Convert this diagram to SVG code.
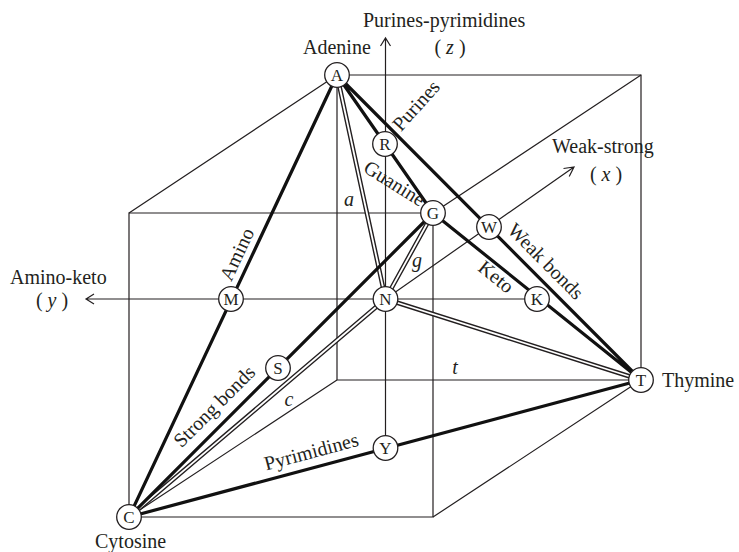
<svg xmlns="http://www.w3.org/2000/svg" width="739" height="552" viewBox="0 0 739 552">
<style>
text{font-family:"Liberation Serif","Times New Roman",serif;font-size:20px;fill:#231f20}
.it{font-style:italic}
.thin{fill:none;stroke:#231f20;stroke-width:1.2}
.thick{fill:none;stroke:#111;stroke-width:3.2;stroke-linecap:round}
.dblo{fill:none;stroke:#231f20;stroke-width:4.6}
.dbli{fill:none;stroke:#fff;stroke-width:1.8}
.node circle{fill:#fff;stroke:#231f20;stroke-width:1.3}
.node text{font-size:17px;text-anchor:middle}
.lab{text-anchor:middle}
</style>
<rect width="739" height="552" fill="#fff"/>
<g id="cube" class="thin">
<path d="M129,213H433V517H129Z"/>
<path d="M337,75H641V380H337Z"/>
<path d="M129,213L337,75M433,213L641,75M433,517L641,380M129,517L337,380"/>
</g>
<g id="connectors">
<g class="thin">
<path d="M385.5,448V38M380.5,46L385.5,38L390.5,46"/>
<path d="M536,299H86M94,294L86,299L94,304"/>
<path d="M385.5,299L574,167M563.5,168.5L574,167L569.2,176.5"/>
</g>
<g class="dblo">
<path d="M337,75L385.5,299M433,213L385.5,299M641,380L385.5,299M129,517L385.5,299"/>
</g>
<g class="dbli">
<path d="M337,75L385.5,299M433,213L385.5,299M641,380L385.5,299M129,517L385.5,299"/>
</g>
<g class="thick">
<path d="M337,75L433,213M337,75L641,380M337,75L129,517M433,213L641,380M433,213L129,517M129,517L641,380"/>
</g>
</g>
<g id="labels">
<text x="363" y="27">Purines-pyrimidines</text>
<text class="lab" x="450" y="54">( <tspan class="it">z</tspan> )</text>
<text x="303" y="54">Adenine</text>
<text x="552" y="153">Weak-strong</text>
<text class="lab" x="606" y="181">( <tspan class="it">x</tspan> )</text>
<text x="662" y="387">Thymine</text>
<text x="10" y="284">Amino-keto</text>
<text class="lab" x="52" y="307">( <tspan class="it">y</tspan> )</text>
<text x="95" y="548">Cytosine</text>
<text class="lab" transform="translate(421,110) rotate(-48)">Purines</text>
<text class="lab" transform="translate(391,189) rotate(32)">Guanine</text>
<text class="lab" transform="translate(243,257) rotate(-64.8)">Amino</text>
<text class="lab" transform="translate(219,411) rotate(-45)">Strong bonds</text>
<text class="lab" transform="translate(313,458) rotate(-15)">Pyrimidines</text>
<text class="lab" transform="translate(541,266) rotate(45.1)">Weak bonds</text>
<text class="lab" transform="translate(492,282) rotate(38.8)">Keto</text>
<text class="lab it" x="349" y="206">a</text>
<text class="lab it" x="417" y="267">g</text>
<text class="lab it" x="455" y="374">t</text>
<text class="lab it" x="289" y="406">c</text>
</g>
<g id="node-A" class="node"><circle cx="337" cy="75" r="12.3"/><text x="337" y="81">A</text></g>
<g id="node-R" class="node"><circle cx="385" cy="144" r="12.3"/><text x="385" y="150">R</text></g>
<g id="node-G" class="node"><circle cx="433" cy="213" r="12.3"/><text x="433" y="219">G</text></g>
<g id="node-W" class="node"><circle cx="489" cy="227" r="12.3"/><text x="489" y="233">W</text></g>
<g id="node-M" class="node"><circle cx="231" cy="299" r="12.3"/><text x="231" y="305">M</text></g>
<g id="node-N" class="node"><circle cx="385.5" cy="299" r="12.3"/><text x="385.5" y="305">N</text></g>
<g id="node-K" class="node"><circle cx="537" cy="299" r="12.3"/><text x="537" y="305">K</text></g>
<g id="node-S" class="node"><circle cx="278" cy="368" r="12.3"/><text x="278" y="374">S</text></g>
<g id="node-T" class="node"><circle cx="641" cy="380" r="12.3"/><text x="641" y="386">T</text></g>
<g id="node-Y" class="node"><circle cx="385.5" cy="448" r="12.3"/><text x="385.5" y="454">Y</text></g>
<g id="node-C" class="node"><circle cx="129" cy="517" r="12.3"/><text x="129" y="523">C</text></g>
</svg>
